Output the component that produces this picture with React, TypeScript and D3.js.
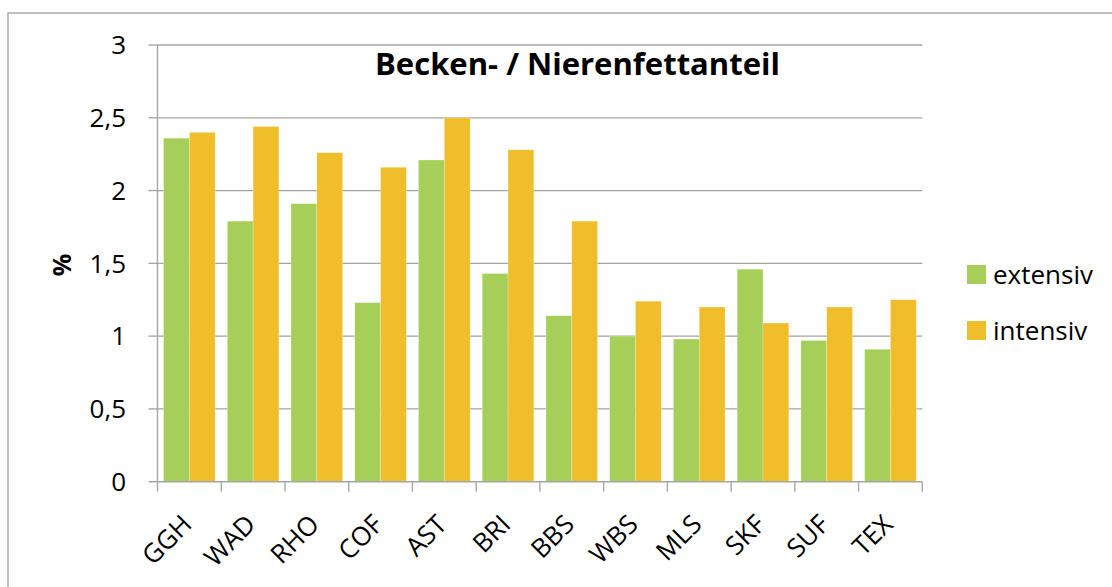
import React from "react";
import * as d3 from "d3";

const categories = ["GGH", "WAD", "RHO", "COF", "AST", "BRI", "BBS", "WBS", "MLS", "SKF", "SUF", "TEX"];
const extensiv = [2.36, 1.79, 1.91, 1.23, 2.21, 1.43, 1.14, 1.0, 0.98, 1.46, 0.97, 0.91];
const intensiv = [2.4, 2.44, 2.26, 2.16, 2.5, 2.28, 1.79, 1.24, 1.2, 1.09, 1.2, 1.25];
const yTicks = [0, 0.5, 1, 1.5, 2, 2.5, 3];
const seriesNames = ["extensiv", "intensiv"];
const colors = ["#A5CF58", "#F0BE2A"];

const W = 1112;
const H = 587;
const left = 157.5;
const right = 922.3;
const top = 45;
const bottom = 481.7;
const FONT = "'Open Sans', Lato, sans-serif";

export default function App() {
  const x = d3.scaleBand<string>().domain(categories).range([left, right]).paddingInner(0).paddingOuter(0);
  const y = d3.scaleLinear().domain([0, 3]).range([bottom, top]);
  const step = x.step();
  const gap = 0.47;
  const bw = step / (2 + gap);
  const series = [extensiv, intensiv];
  const fmt = (v: number) => String(v).replace(".", ",");

  return (
    <svg width={W} height={H} style={{ display: "block", position: "absolute", left: 0, top: 0 }}>
      <rect x={0} y={0} width={W} height={H} fill="#fff" />
      <rect x={8} y={13} width={1200} height={700} fill="none" stroke="#a6a6a6" strokeWidth={1.4} />
      {/* gridlines */}
      {yTicks.slice(1).map((t) => (
        <line key={t} x1={left} x2={right} y1={y(t)} y2={y(t)} stroke="#a3a3a3" strokeWidth={1.3} />
      ))}
      {/* bars */}
      {series.map((vals, si) =>
        vals.map((v, i) => (
          <rect
            key={`${si}-${i}`}
            x={(x(categories[i]) as number) + (gap / 2) * bw + si * bw}
            y={y(v)}
            width={bw}
            height={y(0) - y(v)}
            fill={colors[si]}
            stroke="#fff"
            strokeOpacity={0.4}
            strokeWidth={0.6}
          />
        ))
      )}
      {/* y axis */}
      <line x1={left} x2={left} y1={top} y2={bottom} stroke="#a6a6a6" strokeWidth={1.4} />
      {yTicks.map((t) => (
        <g key={t}>
          <line x1={left - 9} x2={left} y1={y(t)} y2={y(t)} stroke="#a6a6a6" strokeWidth={1.4} />
          <text x={126} y={y(t) + 9.3} textAnchor="end" fontFamily={FONT} fontSize={26} fill="#000">
            {fmt(t)}
          </text>
        </g>
      ))}
      {/* x axis */}
      <line x1={left} x2={right} y1={bottom} y2={bottom} stroke="#a6a6a6" strokeWidth={1.4} />
      {categories.map((c, i) => (
        <line key={c} x1={left + i * step} x2={left + i * step} y1={bottom} y2={bottom + 10} stroke="#a6a6a6" strokeWidth={1.4} />
      ))}
      <line x1={right} x2={right} y1={bottom} y2={bottom + 10} stroke="#a6a6a6" strokeWidth={1.4} />
      {categories.map((c) => {
        const cx = (x(c) as number) + step / 2;
        return (
          <text
            key={c}
            transform={`translate(${cx + 4},${526}) rotate(-45)`}
            textAnchor="end"
            fontFamily={FONT}
            fontSize={26}
            fill="#000"
          >
            {c}
          </text>
        );
      })}
      {/* axis title */}
      <text transform={`translate(71,265) rotate(-90)`} textAnchor="middle" fontFamily={FONT} fontWeight="bold" fontSize={25}>
        %
      </text>
      {/* title */}
      <text x={577.5} y={75} textAnchor="middle" fontFamily={FONT} fontWeight="bold" fontSize={30} textLength={405} lengthAdjust="spacingAndGlyphs">
        Becken- / Nierenfettanteil
      </text>
      {/* legend */}
      {seriesNames.map((n, i) => (
        <g key={n}>
          <rect x={967} y={265 + i * 56} width={19} height={19} fill={colors[i]} />
          <text x={993} y={284.3 + i * 56} fontFamily={FONT} fontSize={26} fill="#000">
            {n}
          </text>
        </g>
      ))}
    </svg>
  );
}
